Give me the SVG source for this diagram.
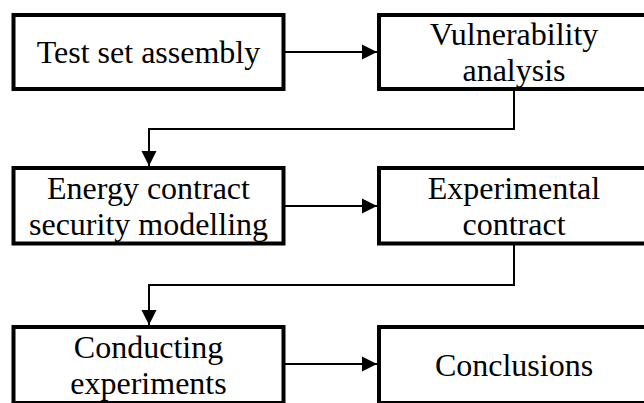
<svg xmlns="http://www.w3.org/2000/svg" width="644" height="403" viewBox="0 0 644 403">
<style>
.box{fill:#fff;stroke:#000;stroke-width:4;stroke-linejoin:miter}
.t{font-family:"Liberation Serif","Times New Roman",serif;font-size:32px;fill:#000;text-anchor:middle}
.c{fill:none;stroke:#000;stroke-width:2}
</style>
<defs>
<marker id="ah" markerUnits="userSpaceOnUse" markerWidth="16" markerHeight="16" viewBox="0 0 16 16" refX="15" refY="8" orient="auto">
<path d="M0,0.5 L15,8 L0,15.5 Z" fill="#000"/>
</marker>
</defs>
<rect width="644" height="403" fill="#fff"/>
<g id="n1"><rect class="box" x="13.5" y="15" width="270" height="74"/><text class="t" x="148.5" y="63">Test set assembly</text></g>
<g id="n2"><rect class="box" x="379" y="15" width="270" height="74"/><text class="t" x="514" y="45">Vulnerability</text><text class="t" x="514" y="81">analysis</text></g>
<g id="n3"><rect class="box" x="13.5" y="168" width="270" height="75.5"/><text class="t" x="148.5" y="199">Energy contract</text><text class="t" x="148.5" y="235">security modelling</text></g>
<g id="n4"><rect class="box" x="379" y="168" width="270" height="75.5"/><text class="t" x="514" y="199">Experimental</text><text class="t" x="514" y="235">contract</text></g>
<g id="n5"><rect class="box" x="13.5" y="327" width="270" height="76"/><text class="t" x="148.5" y="358">Conducting</text><text class="t" x="148.5" y="394">experiments</text></g>
<g id="n6"><rect class="box" x="379" y="327" width="270" height="76"/><text class="t" x="514" y="376">Conclusions</text></g>
<g id="connectors">
<path class="c" d="M285,52 H377" marker-end="url(#ah)"/>
<path class="c" d="M514,91 V129 H149 V166" marker-end="url(#ah)"/>
<path class="c" d="M285,206 H377" marker-end="url(#ah)"/>
<path class="c" d="M514,245 V285 H149 V325" marker-end="url(#ah)"/>
<path class="c" d="M285,364 H377" marker-end="url(#ah)"/>
</g>
</svg>
